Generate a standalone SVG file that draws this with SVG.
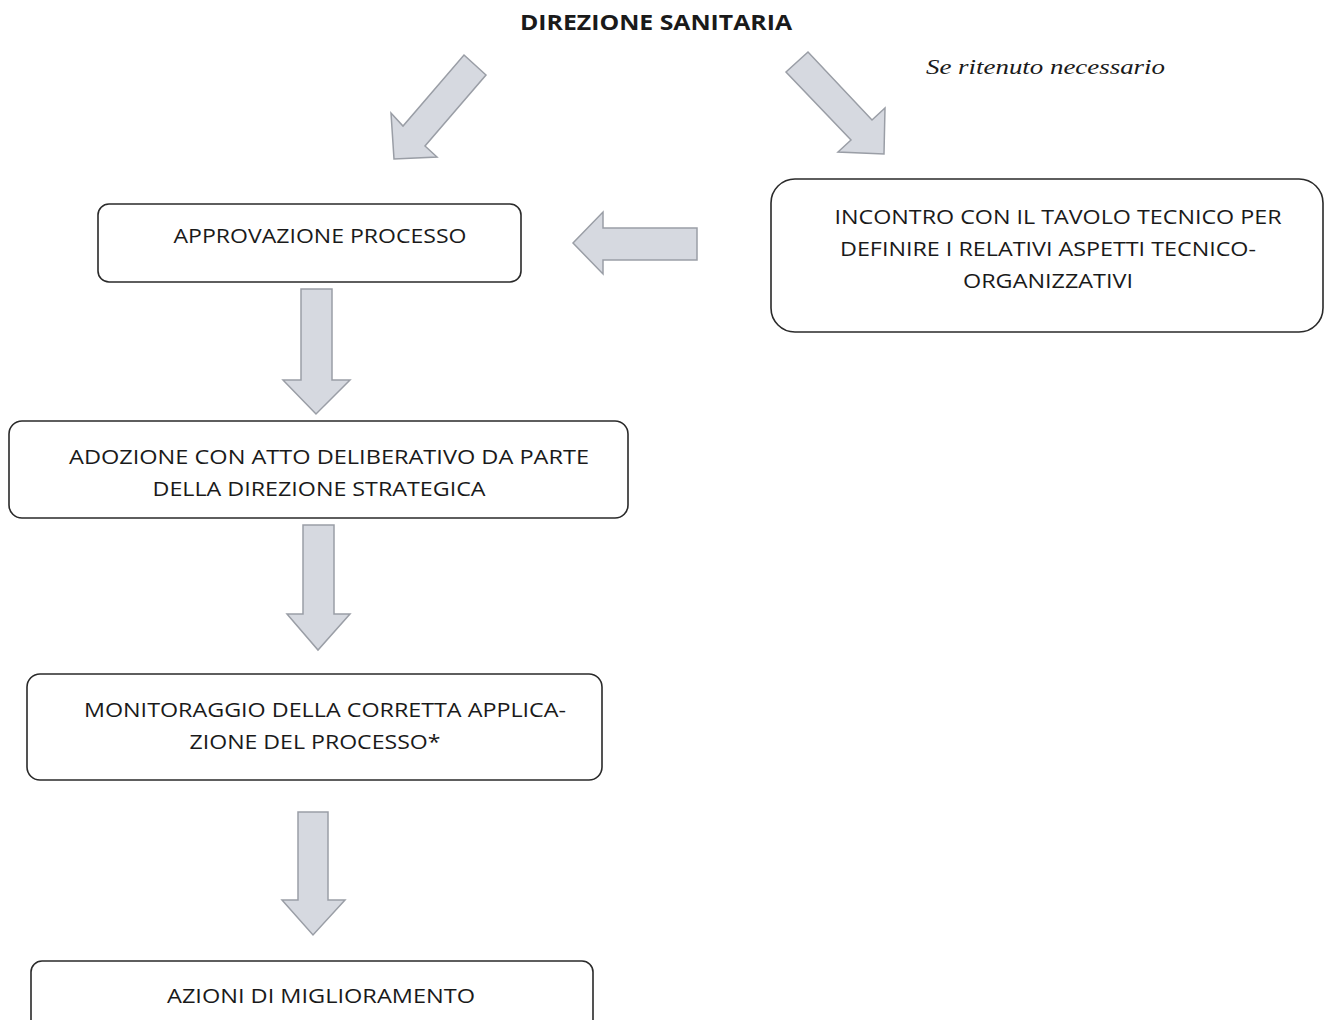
<svg xmlns="http://www.w3.org/2000/svg" width="1327" height="1020" viewBox="0 0 1327 1020">
<style>
.box{fill:#fff;stroke:#2a2a2a;stroke-width:1.6}
.arr{fill:#d6d9e0;stroke:#9a9ea6;stroke-width:1.5;stroke-linejoin:miter}
.t{font-family:"Open Sans","Liberation Sans",sans-serif;font-size:20px;fill:#1a1a1a;text-anchor:middle}
.title{font-family:"Open Sans","Liberation Sans",sans-serif;font-size:21px;font-weight:bold;fill:#1a1a1a;text-anchor:middle}
.note{font-family:"Liberation Serif",serif;font-size:22px;font-style:italic;fill:#1a1a1a}
</style>
<rect width="1327" height="1020" fill="#fff"/>
<g id="title"><text class="title" x="656" y="30" textLength="272" lengthAdjust="spacingAndGlyphs">DIREZIONE SANITARIA</text></g>
<g id="note"><text class="note" x="926" y="74" textLength="239" lengthAdjust="spacingAndGlyphs">Se ritenuto necessario</text></g>
<g id="connectors">
<polygon class="arr" points="464,55 486,75 425,146 437,157 394,159 391,113 403,126"/>
<polygon class="arr" points="808,52 786,72 851,140 838,152 884,154 885,108 872,120"/>
<polygon class="arr" points="697,228 697,260 603,260 603,274 573,243 603,212 603,228"/>
<polygon class="arr" points="301,289 332,289 332,380 350,380 316,414 283,380 301,380"/>
<polygon class="arr" points="303,525 334,525 334,614 350,614 318,650 287,614 303,614"/>
<polygon class="arr" points="298,812 328,812 328,900 345,900 313,935 282,900 298,900"/>
</g>
<g id="n1"><rect class="box" x="98" y="204" width="423" height="78" rx="11"/>
<text class="t" x="320" y="243" textLength="293" lengthAdjust="spacingAndGlyphs">APPROVAZIONE PROCESSO</text></g>
<g id="n2"><rect class="box" x="771" y="179" width="552" height="153" rx="24"/>
<text class="t" x="1058" y="224" textLength="447" lengthAdjust="spacingAndGlyphs">INCONTRO CON IL TAVOLO TECNICO  PER</text>
<text class="t" x="1048" y="256" textLength="416" lengthAdjust="spacingAndGlyphs">DEFINIRE I RELATIVI ASPETTI TECNICO-</text>
<text class="t" x="1048" y="288" textLength="170" lengthAdjust="spacingAndGlyphs">ORGANIZZATIVI</text></g>
<g id="n3"><rect class="box" x="9" y="421" width="619" height="97" rx="13"/>
<text class="t" x="329" y="464" textLength="520" lengthAdjust="spacingAndGlyphs">ADOZIONE CON ATTO DELIBERATIVO  DA PARTE</text>
<text class="t" x="319" y="496" textLength="333" lengthAdjust="spacingAndGlyphs">DELLA DIREZIONE STRATEGICA</text></g>
<g id="n4"><rect class="box" x="27" y="674" width="575" height="106" rx="13"/>
<text class="t" x="325" y="717" textLength="482" lengthAdjust="spacingAndGlyphs">MONITORAGGIO DELLA CORRETTA APPLICA-</text>
<text class="t" x="315" y="749" textLength="251" lengthAdjust="spacingAndGlyphs">ZIONE DEL PROCESSO*</text></g>
<g id="n5"><rect class="box" x="31" y="961" width="562" height="70" rx="11"/>
<text class="t" x="321" y="1003" textLength="308" lengthAdjust="spacingAndGlyphs">AZIONI DI MIGLIORAMENTO</text></g>
</svg>
